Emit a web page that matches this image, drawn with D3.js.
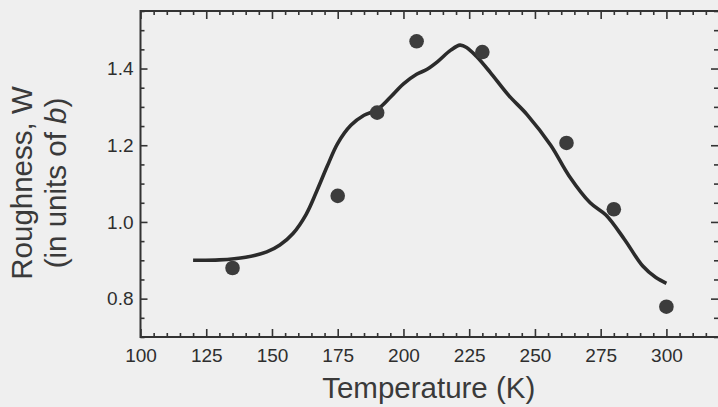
<!DOCTYPE html>
<html>
<head>
<meta charset="utf-8">
<script src="https://cdn.jsdelivr.net/npm/d3@7"></script>
<style>
  html, body { margin: 0; padding: 0; background: #efefef; }
  svg { display: block; }
  .axis text { font-family: "Liberation Sans", Arial, sans-serif; font-size: 19px; fill: #2e2e2e; }
  .axis line { stroke: #333; stroke-width: 1.6; }
  .axis path { display: none; }
  .title { font-family: "Liberation Sans", Arial, sans-serif; font-size: 29.5px; fill: #3a3a3a; }
</style>
</head>
<body>
<svg width="718" height="407"></svg>
<script>
// measured points
var temps = [135, 175, 190, 205, 230, 262, 280, 300]
var roughness = [0.88, 1.068, 1.285, 1.471, 1.443, 1.206, 1.033, 0.779]

// smooth fit curve
var fitT = [120, 130, 140, 148, 153, 158, 163, 167, 171, 175, 180, 185, 190, 195, 200, 205, 209, 213, 218, 221.5, 224, 228, 233, 240, 247, 256, 263, 271, 277, 284, 291, 296, 300]
var fitW = [0.90, 0.901, 0.908, 0.922, 0.94, 0.97, 1.02, 1.08, 1.145, 1.205, 1.252, 1.278, 1.293, 1.325, 1.36, 1.385, 1.398, 1.418, 1.448, 1.461, 1.455, 1.43, 1.39, 1.33, 1.28, 1.20, 1.12, 1.05, 1.018, 0.955, 0.885, 0.855, 0.84]

var xTicks = [100, 125, 150, 175, 200, 225, 250, 275, 300]
var yTicks = [0.8, 1.0, 1.2, 1.4]

var svg = d3.select('svg')
var plotL = 140.5, plotR = 719, plotT = 11, plotB = 337

var x = d3.scaleLinear().domain([100, 320]).range([plotL, plotR])
var y = d3.scaleLinear().domain([0.7, 1.55]).range([plotB, plotT])

var xMinor = d3.range(100, 321, 5).filter(function(d){ return d % 25 != 0 })
var yMinor = d3.range(0.7, 1.551, 0.05).map(function(d){ return +d.toFixed(2) })
    .filter(function(d){ return Math.round(d * 100) % 20 != 0 })

// bottom axis
svg.append('g').attr('class', 'axis')
    .attr('transform', 'translate(0,' + plotB + ')')
    .call(d3.axisBottom(x).tickValues(xTicks).tickSize(-8).tickPadding(12).tickFormat(d3.format('d')))
svg.append('g').attr('class', 'axis')
    .attr('transform', 'translate(0,' + plotB + ')')
    .call(d3.axisBottom(x).tickValues(xMinor).tickSize(-4).tickFormat(''))

// top axis
svg.append('g').attr('class', 'axis')
    .attr('transform', 'translate(0,' + plotT + ')')
    .call(d3.axisTop(x).tickValues(xTicks).tickSize(-8).tickFormat(''))
svg.append('g').attr('class', 'axis')
    .attr('transform', 'translate(0,' + plotT + ')')
    .call(d3.axisTop(x).tickValues(xMinor).tickSize(-4).tickFormat(''))

// left axis
svg.append('g').attr('class', 'axis')
    .attr('transform', 'translate(' + plotL + ',0)')
    .call(d3.axisLeft(y).tickValues(yTicks).tickSize(-7).tickPadding(7).tickFormat(d3.format('.1f')))
svg.append('g').attr('class', 'axis')
    .attr('transform', 'translate(' + plotL + ',0)')
    .call(d3.axisLeft(y).tickValues(yMinor).tickSize(-4).tickFormat(''))

// right axis
svg.append('g').attr('class', 'axis')
    .attr('transform', 'translate(' + (plotR - 1) + ',0)')
    .call(d3.axisRight(y).tickValues(yTicks).tickSize(-7).tickFormat(''))
svg.append('g').attr('class', 'axis')
    .attr('transform', 'translate(' + (plotR - 1) + ',0)')
    .call(d3.axisRight(y).tickValues(yMinor).tickSize(-4).tickFormat(''))

// frame
svg.append('rect')
    .attr('x', plotL).attr('y', plotT)
    .attr('width', plotR - plotL).attr('height', plotB - plotT)
    .style('fill', 'none').style('stroke', '#333').style('stroke-width', 2)

// fit line
var line = d3.line()
    .x(function(d){ return x(d[0]) })
    .y(function(d){ return y(d[1]) })
    .curve(d3.curveCatmullRom)
svg.append('path')
    .datum(d3.zip(fitT, fitW))
    .attr('d', line)
    .style('fill', 'none')
    .style('stroke', '#2b2b2b')
    .style('stroke-width', 3.6)

// dots
svg.selectAll('circle')
    .data(d3.zip(temps, roughness))
    .enter()
    .append('circle')
    .attr('cx', function(d){ return x(d[0]) })
    .attr('cy', function(d){ return y(d[1]) })
    .attr('r', 7.3)
    .style('fill', '#3c3c3c')

// titles
svg.append('text').attr('class', 'title')
    .attr('x', (plotL + plotR) / 2 - 1).attr('y', 398)
    .attr('text-anchor', 'middle')
    .text('Temperature (K)')

var yt = svg.append('text').attr('class', 'title')
    .attr('transform', 'translate(32,183) rotate(-90)')
    .attr('text-anchor', 'middle')
yt.append('tspan').attr('x', 0).attr('y', 0).text('Roughness, W')
yt.append('tspan').attr('x', 0).attr('y', 34).text('(in units of ')
yt.append('tspan').style('font-style', 'italic').text('b')
yt.append('tspan').text(')')
</script>
</body>
</html>
